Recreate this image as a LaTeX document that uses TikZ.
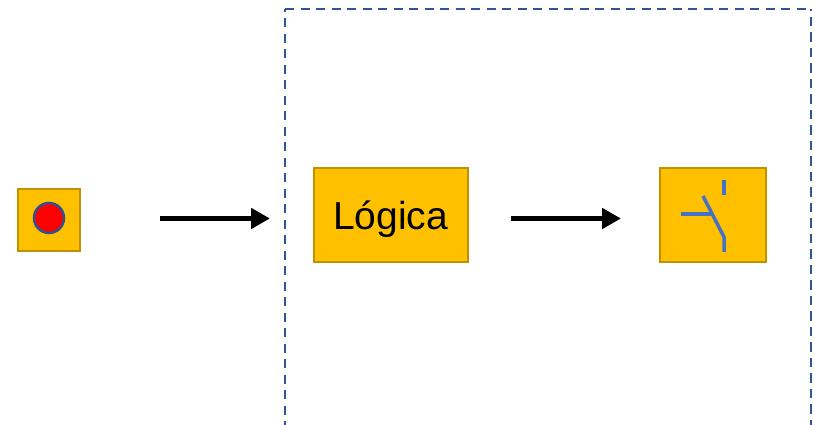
\documentclass[tikz,border=0pt]{standalone}
\usepackage{fontspec}
\setmainfont{Liberation Sans}
\usetikzlibrary{arrows.meta}
\definecolor{boxFill}{RGB}{255,192,0}
\definecolor{boxDraw}{RGB}{191,144,0}
\definecolor{frameColor}{RGB}{47,85,151}
\definecolor{contactColor}{RGB}{68,114,196}
\definecolor{ledFill}{RGB}{255,0,0}
\definecolor{ledDraw}{RGB}{47,82,143}
\tikzset{
  blockbox/.style={draw=boxDraw,fill=boxFill,line width=2pt,inner sep=0pt,outer sep=0pt},
  flowarrow/.style={draw=black,line width=5.5pt,-{Triangle[length=19pt,width=20pt]}},
  framedash/.style={draw=frameColor,line width=2pt,dash pattern=on 9.3pt off 6.2pt},
  contactline/.style={draw=contactColor,line width=3.5pt}
}
\begin{document}
\begin{tikzpicture}[x=1pt,y=1pt]
\path[use as bounding box] (0,0) rectangle (815,425);

\path[framedash] (285,416) -- (811,416);
\path[framedash,dash phase=7.5pt] (811,416) -- (811,0);
\path[framedash,dash phase=6.3pt] (285,416) -- (285,0);

\node[blockbox,minimum width=62pt,minimum height=62pt] (sensor) at (49,205) {};
\node[blockbox,minimum width=154.5pt,minimum height=94pt,text height=29pt,text depth=0pt,font=\fontsize{39}{39}\selectfont] (logica) at (390.75,210) {Lógica};
\node[blockbox,minimum width=105.5pt,minimum height=94pt] (switch) at (712.75,210) {};

\node[circle,draw=ledDraw,fill=ledFill,line width=2.5pt,minimum size=30pt,inner sep=0pt] (led) at (49,207) {};

\coordinate (arrowAstart) at (160,206.5);
\coordinate (arrowAend) at (270,206.5);
\coordinate (arrowBstart) at (511,206.5);
\coordinate (arrowBend) at (621,206.5);
\draw[flowarrow] (arrowAstart) -- (arrowAend);
\draw[flowarrow] (arrowBstart) -- (arrowBend);

\draw[contactline] (724,245) -- (724,230);
\draw[contactline,line join=bevel] (703,229) -- (724,188) -- (724,173);
\draw[contactline] (681,211) -- (712,211);
\end{tikzpicture}
\end{document}
